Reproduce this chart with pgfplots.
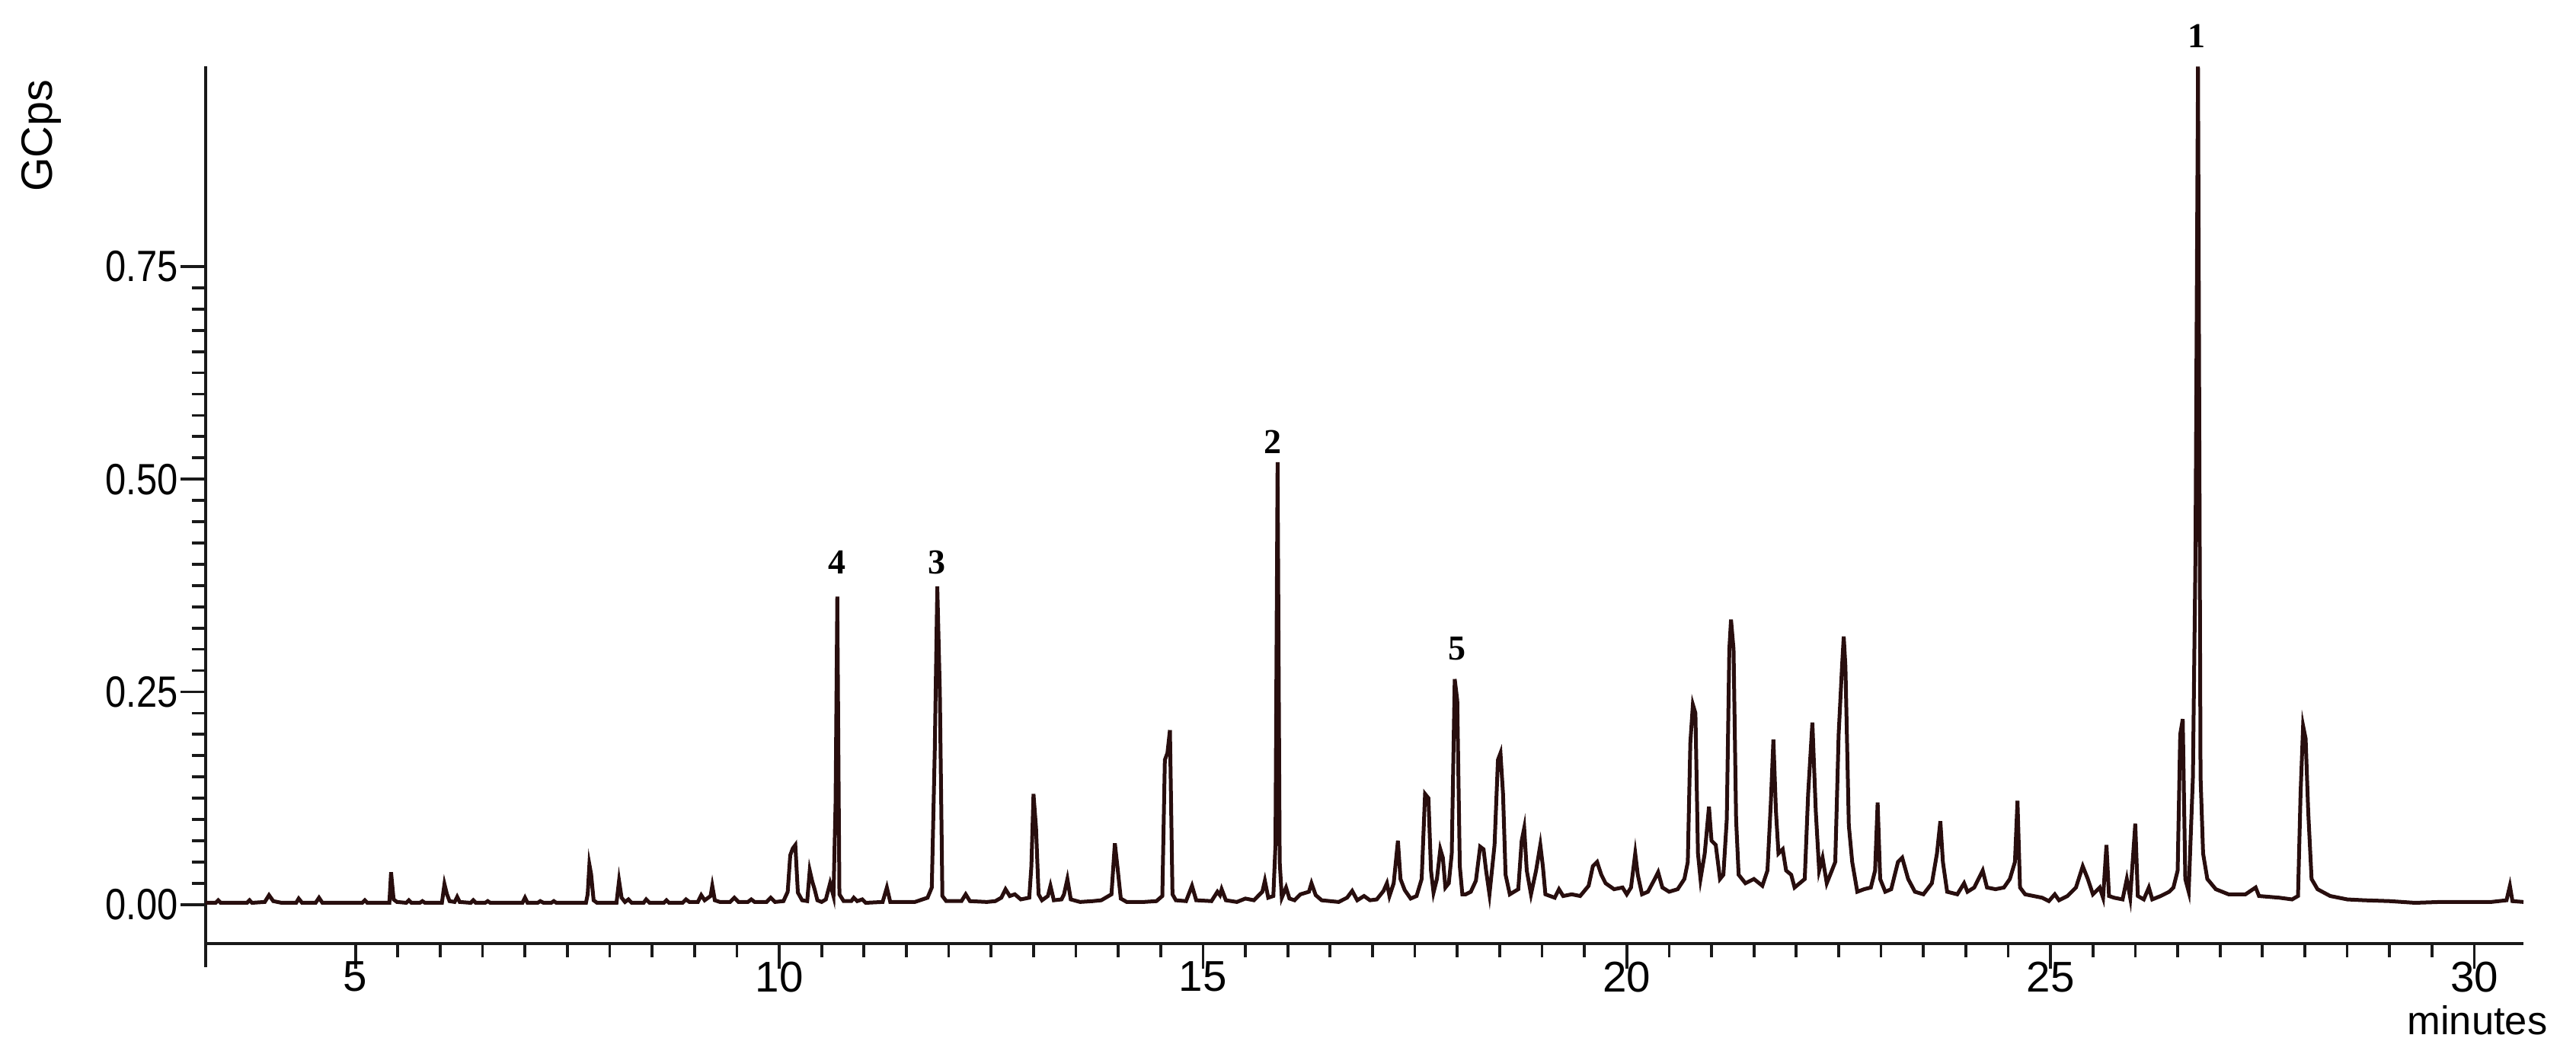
\documentclass[border=0pt]{standalone}
\usepackage{fontspec}
\setmainfont{Liberation Sans}
\newfontfamily\narrowsans{Liberation Sans}[FakeStretch=0.85]
\newfontfamily\peakfont{Liberation Serif}
\usepackage{pgfplots}
\pgfplotsset{compat=1.18}
\usepackage{pgfplotstable}

\definecolor{trace}{RGB}{40,14,14}
\definecolor{axcol}{RGB}{25,25,25}

% retention time (min) vs signal (GCps)
\pgfplotstableread{
t y
3.232 0.002
3.35 0.002
3.38 0.005
3.41 0.002
3.72 0.002
3.75 0.005
3.78 0.002
3.93 0.003
3.98 0.011
4.03 0.004
4.08 0.003
4.13 0.002
4.30 0.002
4.33 0.007
4.37 0.002
4.53 0.002
4.57 0.008
4.61 0.002
5.08 0.002
5.11 0.005
5.14 0.002
5.40 0.002
5.42 0.038
5.45 0.006
5.49 0.003
5.60 0.002
5.63 0.005
5.66 0.002
5.76 0.002
5.79 0.004
5.82 0.002
6.02 0.002
6.05 0.024
6.08 0.012
6.11 0.004
6.17 0.003
6.20 0.009
6.23 0.003
6.36 0.002
6.39 0.005
6.42 0.002
6.53 0.002
6.56 0.004
6.59 0.002
6.97 0.002
7.00 0.008
7.03 0.002
7.15 0.002
7.18 0.004
7.22 0.002
7.31 0.002
7.34 0.004
7.37 0.002
7.72 0.002
7.74 0.012
7.76 0.047
7.78 0.036
7.81 0.005
7.85 0.002
8.08 0.002
8.11 0.028
8.14 0.008
8.18 0.003
8.22 0.006
8.26 0.002
8.40 0.002
8.43 0.006
8.47 0.002
8.64 0.002
8.67 0.005
8.70 0.002
8.86 0.002
8.90 0.006
8.94 0.003
9.04 0.003
9.08 0.011
9.12 0.005
9.19 0.010
9.21 0.022
9.24 0.005
9.30 0.003
9.42 0.003
9.47 0.008
9.52 0.003
9.63 0.003
9.67 0.006
9.71 0.003
9.85 0.003
9.90 0.008
9.95 0.003
10.05 0.004
10.10 0.015
10.13 0.058
10.16 0.066
10.19 0.070
10.22 0.014
10.27 0.005
10.33 0.004
10.36 0.040
10.39 0.027
10.42 0.017
10.45 0.005
10.50 0.003
10.55 0.006
10.60 0.025
10.64 0.010
10.665 0.120
10.685 0.362
10.71 0.012
10.76 0.004
10.85 0.004
10.88 0.008
10.92 0.004
10.98 0.006
11.02 0.002
11.22 0.003
11.27 0.020
11.31 0.003
11.60 0.003
11.75 0.008
11.80 0.020
11.835 0.180
11.865 0.374
11.895 0.250
11.925 0.010
11.97 0.004
12.15 0.004
12.20 0.012
12.25 0.004
12.45 0.003
12.55 0.004
12.62 0.008
12.67 0.018
12.72 0.010
12.78 0.012
12.85 0.006
12.95 0.008
12.975 0.045
13.00 0.130
13.03 0.090
13.06 0.012
13.10 0.005
13.17 0.010
13.20 0.022
13.24 0.005
13.33 0.006
13.36 0.012
13.40 0.030
13.44 0.006
13.55 0.003
13.70 0.004
13.80 0.005
13.92 0.012
13.96 0.072
13.99 0.045
14.03 0.007
14.10 0.003
14.30 0.003
14.45 0.004
14.52 0.010
14.55 0.170
14.58 0.178
14.61 0.205
14.64 0.012
14.68 0.005
14.80 0.004
14.87 0.022
14.92 0.005
15.10 0.004
15.17 0.015
15.20 0.011
15.22 0.018
15.27 0.005
15.40 0.003
15.50 0.007
15.60 0.005
15.70 0.015
15.73 0.028
15.77 0.008
15.83 0.010
15.855 0.070
15.88 0.520
15.905 0.050
15.93 0.008
15.98 0.020
16.02 0.007
16.08 0.005
16.15 0.012
16.25 0.015
16.28 0.025
16.33 0.011
16.40 0.005
16.60 0.003
16.70 0.008
16.76 0.016
16.82 0.005
16.90 0.010
16.97 0.005
17.05 0.006
17.13 0.016
17.17 0.025
17.20 0.010
17.25 0.025
17.30 0.075
17.33 0.030
17.38 0.017
17.45 0.007
17.52 0.010
17.58 0.030
17.62 0.130
17.66 0.125
17.69 0.040
17.72 0.014
17.76 0.030
17.80 0.065
17.83 0.055
17.86 0.020
17.90 0.025
17.935 0.060
17.97 0.265
18.00 0.240
18.03 0.045
18.06 0.012
18.10 0.012
18.16 0.015
18.22 0.028
18.27 0.068
18.31 0.065
18.34 0.040
18.38 0.012
18.44 0.070
18.48 0.170
18.51 0.178
18.54 0.130
18.57 0.035
18.62 0.012
18.72 0.018
18.76 0.075
18.79 0.090
18.82 0.040
18.87 0.012
18.93 0.040
18.98 0.070
19.01 0.045
19.04 0.012
19.15 0.008
19.20 0.018
19.25 0.010
19.35 0.012
19.45 0.010
19.55 0.022
19.60 0.045
19.65 0.050
19.70 0.035
19.75 0.025
19.85 0.018
19.95 0.020
20.00 0.012
20.05 0.020
20.10 0.060
20.13 0.035
20.18 0.012
20.25 0.015
20.33 0.030
20.37 0.038
20.42 0.020
20.50 0.015
20.60 0.018
20.68 0.030
20.72 0.050
20.75 0.190
20.78 0.235
20.81 0.225
20.84 0.060
20.87 0.030
20.92 0.060
20.97 0.115
21.00 0.075
21.05 0.070
21.10 0.030
21.14 0.035
21.18 0.100
21.21 0.300
21.23 0.335
21.26 0.300
21.29 0.100
21.32 0.035
21.40 0.025
21.50 0.030
21.60 0.022
21.66 0.040
21.70 0.120
21.73 0.194
21.76 0.110
21.79 0.060
21.84 0.065
21.88 0.040
21.94 0.035
21.98 0.020
22.10 0.030
22.14 0.130
22.19 0.214
22.23 0.110
22.27 0.040
22.31 0.055
22.36 0.025
22.40 0.035
22.46 0.050
22.50 0.200
22.54 0.280
22.56 0.315
22.58 0.280
22.62 0.093
22.66 0.050
22.72 0.015
22.80 0.018
22.88 0.020
22.93 0.040
22.96 0.120
22.99 0.030
23.05 0.015
23.12 0.018
23.20 0.050
23.25 0.055
23.32 0.030
23.40 0.015
23.50 0.012
23.60 0.025
23.66 0.060
23.70 0.098
23.73 0.050
23.78 0.015
23.90 0.012
23.98 0.025
24.02 0.015
24.10 0.020
24.20 0.040
24.25 0.020
24.35 0.018
24.45 0.020
24.52 0.030
24.58 0.050
24.61 0.122
24.64 0.020
24.70 0.012
24.80 0.010
24.90 0.008
24.98 0.004
25.05 0.012
25.10 0.005
25.20 0.010
25.30 0.020
25.38 0.045
25.44 0.030
25.50 0.012
25.58 0.020
25.62 0.008
25.66 0.070
25.69 0.010
25.75 0.008
25.85 0.006
25.90 0.030
25.94 0.008
26.00 0.095
26.03 0.010
26.10 0.006
26.16 0.020
26.20 0.006
26.30 0.010
26.40 0.015
26.45 0.020
26.50 0.040
26.53 0.200
26.56 0.218
26.59 0.030
26.63 0.015
26.68 0.150
26.71 0.410
26.74 0.985
26.77 0.150
26.80 0.060
26.85 0.030
26.95 0.018
27.10 0.012
27.30 0.012
27.42 0.020
27.46 0.010
27.70 0.008
27.85 0.006
27.92 0.010
27.95 0.130
27.98 0.210
28.01 0.195
28.04 0.110
28.08 0.030
28.15 0.018
28.30 0.010
28.50 0.006
28.70 0.005
29.00 0.004
29.30 0.002
29.60 0.003
29.90 0.003
30.20 0.003
30.38 0.005
30.42 0.022
30.45 0.004
30.58 0.003
}\chrom

% peak numbers
\pgfplotstableread{
t y lab
26.72 1.007 1
10.68 0.389 4
11.86 0.389 3
15.82 0.530 2
18.00 0.288 5
}\peaks

\begin{document}
\begin{tikzpicture}
  \begin{axis}[
      x=22.254pt, y=223.4pt,
      xmin=3.232, xmax=30.58,
      ymin=-0.046, ymax=0.985,
      clip=false,
      axis x line=bottom, axis y line=left,
      axis line style={-, line width=0.75pt, draw=axcol},
      every tick/.style={line width=0.75pt, draw=axcol},
      tick align=outside,
      major tick length=6.5pt, minor tick length=3.6pt,
      xtick={5,10,...,30}, minor x tick num=9,
      ytick={0,0.25,0.5,0.75}, minor y tick num=9,
      /pgf/number format/assume math mode=true,
      yticklabel style={/pgf/number format/.cd, fixed, fixed zerofill, precision=2, /tikz/.cd,
        inner xsep=0.6pt, font=\narrowsans\fontsize{11.5}{13}\selectfont},
      xticklabel style={inner ysep=0pt, yshift=2pt, font=\fontsize{11.3}{13}\selectfont},
      ylabel={GCps},
      ylabel style={at={(axis description cs:-0.0707,0.921)}, anchor=center, font=\fontsize{11.5}{13}\selectfont},
      xlabel={minutes},
      xlabel style={at={(axis description cs:1.0106,-0.1035)}, anchor=base east, inner sep=0pt,
        font=\fontsize{10.5}{12}\selectfont},
    ]
    \addplot[trace, line width=1.0pt, mark=none] table[x=t, y=y] {\chrom};
    \addplot[draw=none, mark=none, nodes near coords, point meta=explicit symbolic,
      nodes near coords style={anchor=base, inner sep=0pt, font=\peakfont\bfseries\fontsize{9.2}{10}\selectfont}]
      table[x=t, y=y, meta=lab] {\peaks};
    % y axis runs on below the time axis
    \draw[line width=0.75pt, axcol] (axis cs:3.232,-0.046) -- (axis cs:3.232,-0.074);
    \coordinate (bbsw) at (axis cs:0.8058,-0.1757);
    \coordinate (bbne) at (axis cs:31.2,1.0633);
  \end{axis}
  \pgfresetboundingbox
  \path[use as bounding box] (bbsw) rectangle (bbne);
\end{tikzpicture}
\end{document}
